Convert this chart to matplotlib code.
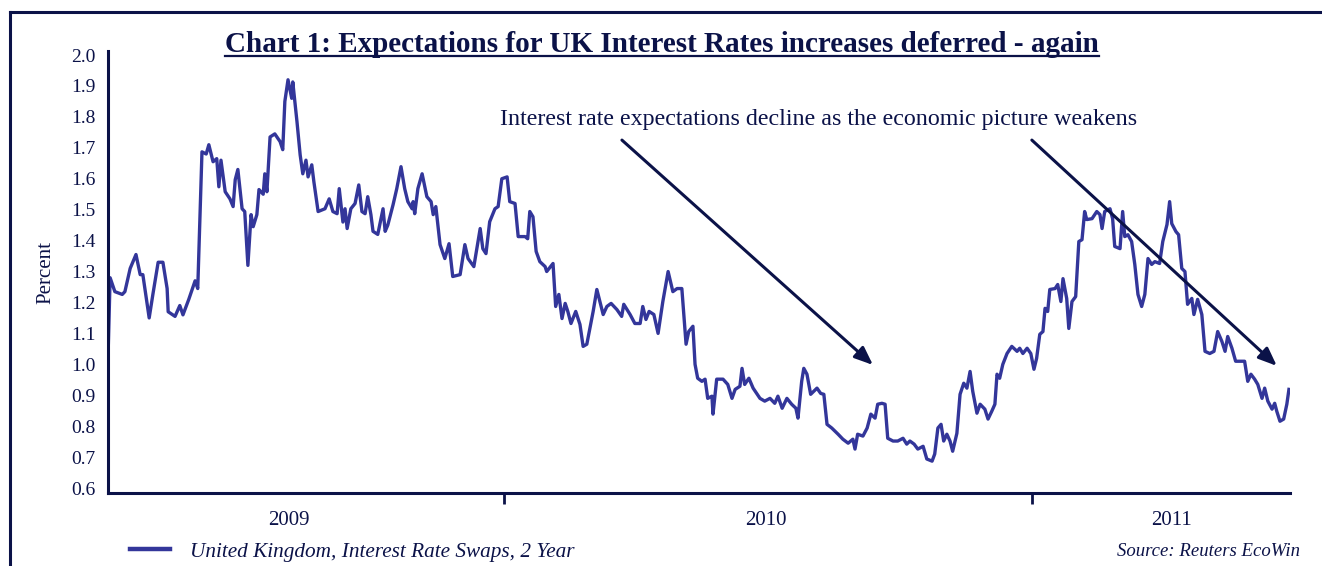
import matplotlib.pyplot as plt
from matplotlib.lines import Line2D

plt.rcParams['font.family'] = ['Liberation Serif', 'DejaVu Serif']

# UK 2-year interest rate swap (decimal years, percent)
years = [
    2009.250, 2009.254, 2009.263, 2009.277, 2009.282, 2009.292, 2009.303, 2009.311, 2009.316, 2009.328,
    2009.335, 2009.345, 2009.354, 2009.362, 2009.364, 2009.377, 2009.386, 2009.392, 2009.403, 2009.415,
    2009.420, 2009.428, 2009.436, 2009.441, 2009.449, 2009.456, 2009.460, 2009.464, 2009.472, 2009.481,
    2009.487, 2009.491, 2009.496, 2009.504, 2009.509, 2009.515, 2009.521, 2009.525, 2009.532, 2009.536,
    2009.544, 2009.547, 2009.551, 2009.557, 2009.566, 2009.576, 2009.581, 2009.585, 2009.591, 2009.598,
    2009.600, 2009.608, 2009.614, 2009.619, 2009.625, 2009.629, 2009.636, 2009.640, 2009.648, 2009.661,
    2009.669, 2009.676, 2009.684, 2009.688, 2009.695, 2009.699, 2009.703, 2009.710, 2009.718, 2009.725,
    2009.731, 2009.737, 2009.742, 2009.748, 2009.752, 2009.761, 2009.771, 2009.775, 2009.780, 2009.790,
    2009.797, 2009.805, 2009.812, 2009.818, 2009.826, 2009.828, 2009.831, 2009.837, 2009.845, 2009.854,
    2009.862, 2009.866, 2009.871, 2009.879, 2009.888, 2009.896, 2009.903, 2009.917, 2009.926, 2009.932,
    2009.943, 2009.955, 2009.960, 2009.966, 2009.973, 2009.983, 2009.989, 2009.996, 2010.006, 2010.011,
    2010.021, 2010.027, 2010.040, 2010.045, 2010.049, 2010.055, 2010.061, 2010.068, 2010.078, 2010.081,
    2010.093, 2010.098, 2010.104, 2010.110, 2010.116, 2010.121, 2010.127, 2010.136, 2010.144, 2010.150,
    2010.157, 2010.169, 2010.176, 2010.188, 2010.195, 2010.203, 2010.214, 2010.223, 2010.227, 2010.239,
    2010.248, 2010.258, 2010.263, 2010.269, 2010.275, 2010.284, 2010.292, 2010.301, 2010.311, 2010.320,
    2010.328, 2010.337, 2010.345, 2010.350, 2010.358, 2010.362, 2010.367, 2010.375, 2010.381, 2010.386,
    2010.394, 2010.396, 2010.403, 2010.415, 2010.424, 2010.432, 2010.438, 2010.447, 2010.451, 2010.456,
    2010.464, 2010.472, 2010.485, 2010.494, 2010.504, 2010.513, 2010.519, 2010.527, 2010.536, 2010.545,
    2010.553, 2010.557, 2010.564, 2010.568, 2010.574, 2010.581, 2010.587, 2010.593, 2010.600, 2010.606,
    2010.612, 2010.621, 2010.627, 2010.633, 2010.642, 2010.652, 2010.661, 2010.665, 2010.670, 2010.680,
    2010.688, 2010.695, 2010.703, 2010.708, 2010.716, 2010.722, 2010.727, 2010.737, 2010.746, 2010.756,
    2010.763, 2010.769, 2010.777, 2010.784, 2010.794, 2010.801, 2010.811, 2010.816, 2010.822, 2010.828,
    2010.833, 2010.839, 2010.845, 2010.850, 2010.858, 2010.864, 2010.871, 2010.877, 2010.883, 2010.888,
    2010.896, 2010.902, 2010.911, 2010.917, 2010.924, 2010.930, 2010.934, 2010.939, 2010.945, 2010.953,
    2010.962, 2010.972, 2010.977, 2010.983, 2010.991, 2010.998, 2011.004, 2011.009, 2011.015, 2011.021,
    2011.025, 2011.030, 2011.034, 2011.044, 2011.049, 2011.055, 2011.059, 2011.066, 2011.070, 2011.076,
    2011.083, 2011.089, 2011.095, 2011.100, 2011.104, 2011.114, 2011.123, 2011.129, 2011.133, 2011.138,
    2011.148, 2011.153, 2011.157, 2011.167, 2011.172, 2011.176, 2011.182, 2011.189, 2011.195, 2011.201,
    2011.208, 2011.214, 2011.220, 2011.227, 2011.233, 2011.242, 2011.248, 2011.256, 2011.261, 2011.265,
    2011.273, 2011.278, 2011.284, 2011.290, 2011.295, 2011.303, 2011.307, 2011.314, 2011.322, 2011.328,
    2011.337, 2011.345, 2011.352, 2011.360, 2011.366, 2011.371, 2011.379, 2011.386, 2011.396, 2011.403,
    2011.409, 2011.415, 2011.422, 2011.428, 2011.436, 2011.441, 2011.447, 2011.455, 2011.460, 2011.464,
    2011.470, 2011.477, 2011.483, 2011.487,
]
rates = [
    1.02, 1.28, 1.235, 1.226, 1.235, 1.31, 1.355, 1.29, 1.29, 1.15,
    1.226, 1.33, 1.33, 1.245, 1.17, 1.155, 1.19, 1.16, 1.21, 1.27,
    1.245, 1.687, 1.68, 1.71, 1.655, 1.665, 1.574, 1.66, 1.558, 1.535,
    1.51, 1.597, 1.63, 1.503, 1.494, 1.32, 1.484, 1.445, 1.484, 1.565,
    1.55, 1.616, 1.558, 1.735, 1.745, 1.72, 1.694, 1.85, 1.92, 1.86,
    1.913, 1.784, 1.677, 1.616, 1.66, 1.606, 1.645, 1.59, 1.494, 1.503,
    1.535, 1.494, 1.487, 1.568, 1.46, 1.503, 1.439, 1.503, 1.52, 1.58,
    1.494, 1.487, 1.542, 1.484, 1.43, 1.42, 1.503, 1.43, 1.45, 1.516,
    1.568, 1.639, 1.568, 1.526, 1.503, 1.526, 1.487, 1.568, 1.616, 1.542,
    1.526, 1.484, 1.51, 1.387, 1.342, 1.39, 1.284, 1.29, 1.387, 1.342,
    1.316, 1.439, 1.374, 1.358, 1.461, 1.503, 1.51, 1.60, 1.606, 1.526,
    1.52, 1.413, 1.413, 1.406, 1.494, 1.477, 1.365, 1.332, 1.316, 1.30,
    1.326, 1.187, 1.226, 1.148, 1.197, 1.171, 1.132, 1.171, 1.129, 1.058,
    1.065, 1.171, 1.242, 1.161, 1.187, 1.197, 1.177, 1.155, 1.194, 1.161,
    1.132, 1.132, 1.187, 1.145, 1.171, 1.161, 1.10, 1.203, 1.30, 1.235,
    1.245, 1.245, 1.065, 1.106, 1.123, 1.00, 0.955, 0.945, 0.952, 0.89,
    0.897, 0.839, 0.952, 0.952, 0.935, 0.89, 0.919, 0.929, 0.987, 0.935,
    0.955, 0.923, 0.89, 0.881, 0.89, 0.874, 0.897, 0.858, 0.89, 0.871,
    0.858, 0.826, 0.945, 0.987, 0.968, 0.903, 0.913, 0.923, 0.906, 0.903,
    0.806, 0.794, 0.784, 0.774, 0.758, 0.745, 0.758, 0.726, 0.774, 0.768,
    0.794, 0.839, 0.826, 0.871, 0.874, 0.871, 0.761, 0.752, 0.752, 0.761,
    0.742, 0.752, 0.742, 0.726, 0.735, 0.694, 0.687, 0.71, 0.794, 0.806,
    0.752, 0.774, 0.752, 0.719, 0.777, 0.903, 0.939, 0.923, 0.977, 0.913,
    0.842, 0.871, 0.855, 0.823, 0.848, 0.871, 0.968, 0.955, 1.00, 1.035,
    1.058, 1.042, 1.052, 1.035, 1.052, 1.035, 0.984, 1.019, 1.097, 1.106,
    1.181, 1.171, 1.242, 1.245, 1.258, 1.203, 1.277, 1.213, 1.116, 1.203,
    1.219, 1.397, 1.403, 1.494, 1.468, 1.471, 1.494, 1.484, 1.439, 1.494,
    1.503, 1.471, 1.381, 1.374, 1.494, 1.413, 1.419, 1.397, 1.323, 1.226,
    1.187, 1.226, 1.342, 1.323, 1.332, 1.326, 1.397, 1.452, 1.526, 1.455,
    1.429, 1.419, 1.31, 1.30, 1.194, 1.213, 1.161, 1.21, 1.161, 1.042,
    1.035, 1.042, 1.106, 1.074, 1.042, 1.09, 1.052, 1.01, 1.01, 1.01,
    0.945, 0.968, 0.952, 0.935, 0.89, 0.923, 0.881, 0.855, 0.874, 0.848,
    0.816, 0.823, 0.871, 0.919,
]

year_labels = ['2009', '2010', '2011']
year_label_pos = [2009.593, 2010.496, 2011.265]
year_bounds = [2010, 2011]
yticks = [0.6, 0.7, 0.8, 0.9, 1.0, 1.1, 1.2, 1.3, 1.4, 1.5, 1.6, 1.7, 1.8, 1.9, 2.0]

navy = '#0b1248'
line_col = '#33369a'

fig = plt.figure(figsize=(13.22, 5.66), dpi=100)
ax = fig.add_axes([108 / 1322, 1 - 493 / 566, (1290 - 108) / 1322, (493 - 51) / 566])

ax.plot(years, rates, color=line_col, lw=2.4, solid_joinstyle='round')

ax.set_xlim(2009.25, 2011.489)
ax.set_ylim(0.584, 2.013)
ax.set_yticks(yticks)
ax.set_yticklabels([f'{v:.1f}' for v in yticks])
ax.tick_params(axis='y', length=0, pad=9, labelsize=14, labelcolor=navy)

ax.set_xticks(year_bounds)
ax.set_xticklabels([])
ax.tick_params(axis='x', which='major', direction='out', length=8, width=2, color=navy)
ax.set_xticks(year_label_pos, minor=True)
ax.set_xticklabels(year_labels, minor=True)
ax.tick_params(axis='x', which='minor', length=0, pad=13, labelsize=15, labelcolor=navy)

for s in ['top', 'right']:
    ax.spines[s].set_visible(False)
for s in ['left', 'bottom']:
    ax.spines[s].set_color(navy)
    ax.spines[s].set_linewidth(2.2)

ax.set_ylabel('Percent', fontsize=15, color=navy, labelpad=11)

# title with underline
title = fig.text(0.5007, 1 - 52 / 566, 'Chart 1: Expectations for UK Interest Rates increases deferred - again',
                 ha='center', va='baseline', fontsize=21, fontweight='bold', color=navy)
fig.canvas.draw()
bb = title.get_window_extent().transformed(fig.transFigure.inverted())
uy = 1 - 55.5 / 566
fig.add_artist(Line2D([bb.x0, bb.x1], [uy, uy], color=navy, lw=1.6, transform=fig.transFigure))

# annotation
ax.text(2009.9924, 1.793, 'Interest rate expectations decline as the economic picture weakens',
        fontsize=17.3, color=navy, ha='left', va='center')
arrow = dict(arrowstyle='-|>,head_length=1.1,head_width=0.45', color=navy, lw=2.2, shrinkA=0, shrinkB=0)
ax.annotate('', xy=(2010.699, 0.998), xytext=(2010.2235, 1.725), arrowprops=arrow)
ax.annotate('', xy=(2011.464, 0.995), xytext=(2011.0, 1.725), arrowprops=arrow)

# legend and source
fig.add_artist(Line2D([130 / 1322, 170 / 1322], [1 - 549 / 566] * 2, color=line_col, lw=3.2,
                      transform=fig.transFigure))
fig.text(190 / 1322, 1 - 552 / 566, 'United Kingdom, Interest Rate Swaps, 2 Year', fontsize=15.3,
         style='italic', color=navy, va='center', ha='left')
fig.text(1300 / 1322, 1 - 551 / 566, 'Source: Reuters EcoWin', fontsize=13.5, style='italic',
         color=navy, va='center', ha='right')

# outer frame
fig.add_artist(Line2D([9.5 / 1322, 9.5 / 1322], [0, 1 - 12 / 566], color=navy, lw=2.2, transform=fig.transFigure))
fig.add_artist(Line2D([9.5 / 1322, 1], [1 - 12 / 566] * 2, color=navy, lw=2.2, transform=fig.transFigure))

fig.savefig('out.png', dpi=100)
